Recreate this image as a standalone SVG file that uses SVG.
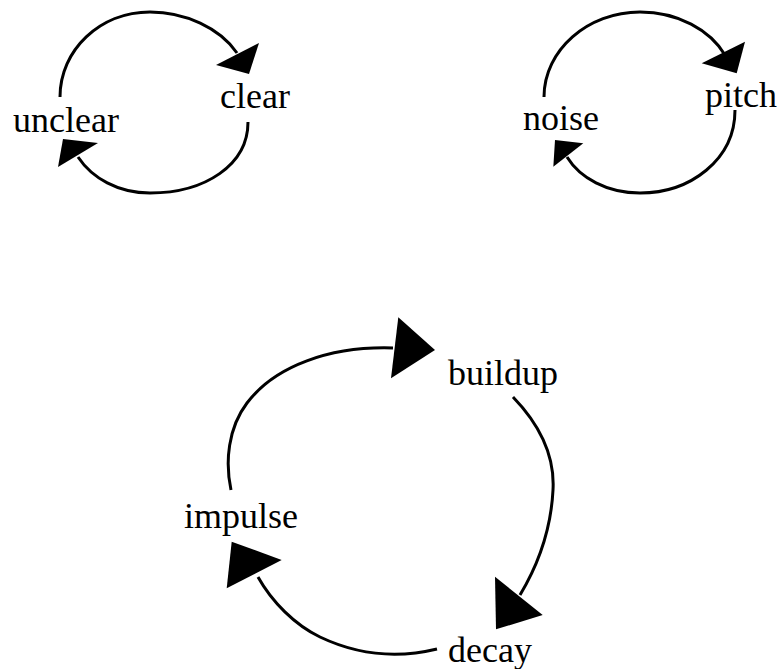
<svg xmlns="http://www.w3.org/2000/svg" width="779" height="669" viewBox="0 0 779 669">
  <style>
    .label { font-family: "Liberation Serif", "Times New Roman", serif; font-size: 36px; fill: #000; text-anchor: middle; }
    .edge { fill: none; stroke: #000; stroke-width: 3; }
    .head { fill: #000; stroke: none; }
  </style>
  <rect width="779" height="669" fill="#fff"/>

  <!-- connectors -->
  <g id="edges">
    <!-- unclear -> clear -->
    <path class="edge" d="M60,97 C60,50 100,12 150,12 C185,12 220,28 237,53"/>
    <polygon class="head" points="216,65 259,43 249,74"/>
    <!-- clear -> unclear -->
    <path class="edge" d="M248,122 C248,165 205,193 150,193 C118,193 92,178 78,157"/>
    <polygon class="head" points="58,167 63,139 98,143"/>
    <!-- noise -> pitch -->
    <path class="edge" d="M544,97 C544,50 588,12 640,12 C678,12 710,30 725,55"/>
    <polygon class="head" points="701.7,63.3 745,41.7 736.7,73.3"/>
    <!-- pitch -> noise -->
    <path class="edge" d="M735,110 C735,160 690,193 640,193 C607,193 580,178 567,157"/>
    <polygon class="head" points="553.3,166.7 555,140 583.3,143.3"/>
    <!-- impulse -> buildup -->
    <path class="edge" d="M231,490 C225,462 228,428 247,403 C275,366 330,346 393,348"/>
    <polygon class="head" points="398.3,317.3 435,350 391,378.3"/>
    <!-- buildup -> decay -->
    <path class="edge" d="M513,397 C540,425 555,455 553,490 C551,530 538,565 520,595"/>
    <polygon class="head" points="495,576.7 542.7,615 496,629.3"/>
    <!-- decay -> impulse -->
    <path class="edge" d="M437,649 C400,658 360,656 320,637 C295,625 272,602 258,577"/>
    <polygon class="head" points="226.7,588.3 231.7,541.7 281.7,560"/>
  </g>

  <!-- nodes -->
  <g id="unclear"><text class="label" x="66" y="132">unclear</text></g>
  <g id="clear"><text class="label" x="255" y="108">clear</text></g>
  <g id="noise"><text class="label" x="561" y="130">noise</text></g>
  <g id="pitch"><text class="label" x="741" y="107">pitch</text></g>
  <g id="buildup"><text class="label" x="503" y="385">buildup</text></g>
  <g id="impulse"><text class="label" x="241" y="528">impulse</text></g>
  <g id="decay"><text class="label" x="490" y="662">decay</text></g>
</svg>
